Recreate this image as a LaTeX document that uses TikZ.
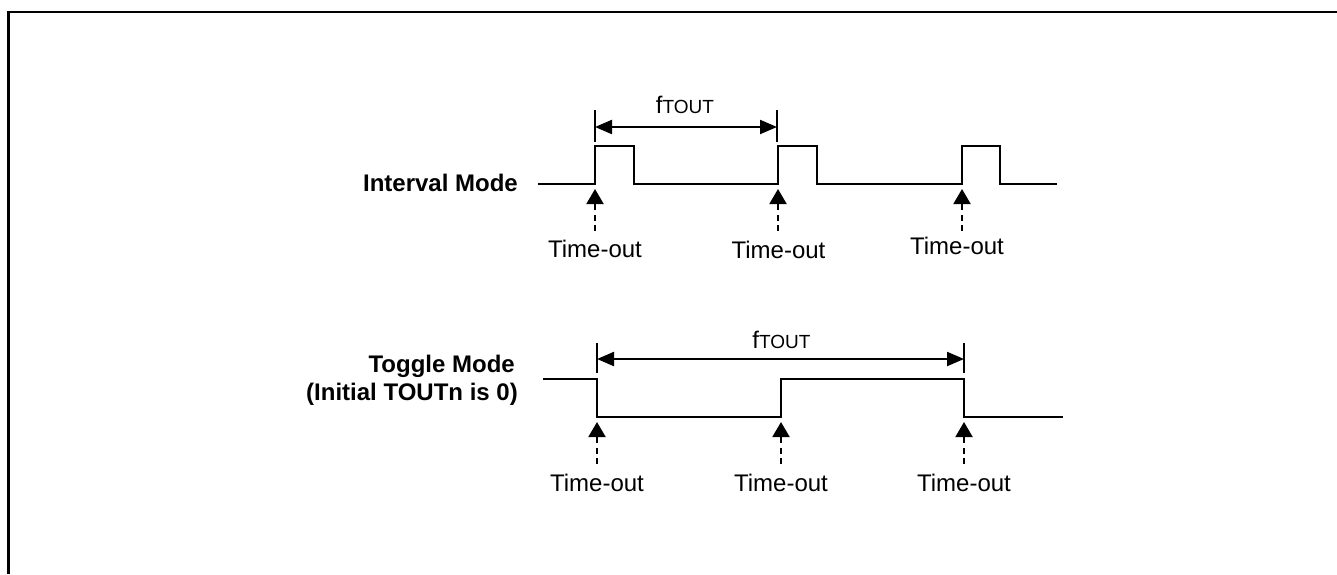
\documentclass[tikz,border=0pt]{standalone}
\usepackage{fontspec}
\setmainfont{Liberation Sans}
\usetikzlibrary{arrows.meta}
\begin{document}
\begin{tikzpicture}[x=1pt,y=-1pt,
  wave/.style={line width=2.2pt, line join=miter},
  tickline/.style={line width=1.8pt},
  dim/.style={line width=2.2pt, {Triangle[length=17pt,width=14pt]}-{Triangle[length=17pt,width=14pt]}},
  trig/.style={line width=2pt, dash pattern=on 6pt off 4.5pt, -{Triangle[length=15pt,width=17pt]}},
  lbl/.style={font=\fontsize{24}{28}\selectfont, anchor=base, inner sep=0pt},
  modelbl/.style={font=\fontsize{24}{28}\selectfont\bfseries, anchor=base east, inner sep=0pt},
  framelines/.style={line width=2.5pt}]
\useasboundingbox (0,0) rectangle (1337,574);
% frame (cropped)
\draw[framelines] (8.5,574) -- (8.5,12) -- (1337,12);

% ---------- Interval mode ----------
\node[modelbl] (imode) at (518,191) {Interval Mode};
\draw[wave] (538,184) -- (595,184) -- (595,146) -- (634,146) -- (634,184)
  -- (778,184) -- (778,146) -- (817,146) -- (817,184)
  -- (962,184) -- (962,146) -- (1000,146) -- (1000,184) -- (1057,184);

% fTOUT dimension
\coordinate (it1a) at (595,110); \coordinate (it1b) at (595,142);
\coordinate (it2a) at (777,110); \coordinate (it2b) at (777,142);
\draw[tickline] (it1a) -- (it1b);
\draw[tickline] (it2a) -- (it2b);
\coordinate (id1) at (595,127); \coordinate (id2) at (777,127);
\draw[dim] (id1) -- (id2);
\node[lbl] (ift) at (685,113) {f{\fontsize{19}{20}\selectfont TOUT}};

% triggers
\coordinate (is1) at (595,231); \coordinate (ie1) at (595,189);
\coordinate (is2) at (778,231); \coordinate (ie2) at (778,189);
\coordinate (is3) at (962,231); \coordinate (ie3) at (962,189);
\draw[trig] (is1) -- (ie1);
\draw[trig] (is2) -- (ie2);
\draw[trig] (is3) -- (ie3);
\node[lbl] (ito1) at (595,257) {Time-out};
\node[lbl] (ito2) at (778.5,258) {Time-out};
\node[lbl] (ito3) at (957,254) {Time-out};

% ---------- Toggle mode ----------
\node[modelbl] (tmode1) at (515,372) {Toggle Mode};
\node[modelbl] (tmode2) at (518,400) {(Initial TOUTn is 0)};
\draw[wave] (543,379) -- (597,379) -- (597,417) -- (781,417) -- (781,379)
  -- (964,379) -- (964,417) -- (1063,417);

% fTOUT dimension
\coordinate (tt1a) at (597,343); \coordinate (tt1b) at (597,373);
\coordinate (tt2a) at (964,343); \coordinate (tt2b) at (964,373);
\draw[tickline] (tt1a) -- (tt1b);
\draw[tickline] (tt2a) -- (tt2b);
\coordinate (td1) at (597,359); \coordinate (td2) at (964,359);
\draw[dim] (td1) -- (td2);
\node[lbl] (tft) at (781.5,348) {f{\fontsize{19}{20}\selectfont TOUT}};

% triggers
\coordinate (ts1) at (597,464); \coordinate (te1) at (597,422);
\coordinate (ts2) at (781,464); \coordinate (te2) at (781,422);
\coordinate (ts3) at (964,464); \coordinate (te3) at (964,422);
\draw[trig] (ts1) -- (te1);
\draw[trig] (ts2) -- (te2);
\draw[trig] (ts3) -- (te3);
\node[lbl] (tto1) at (597,491.5) {Time-out};
\node[lbl] (tto2) at (781,491) {Time-out};
\node[lbl] (tto3) at (964,491) {Time-out};
\end{tikzpicture}
\end{document}
